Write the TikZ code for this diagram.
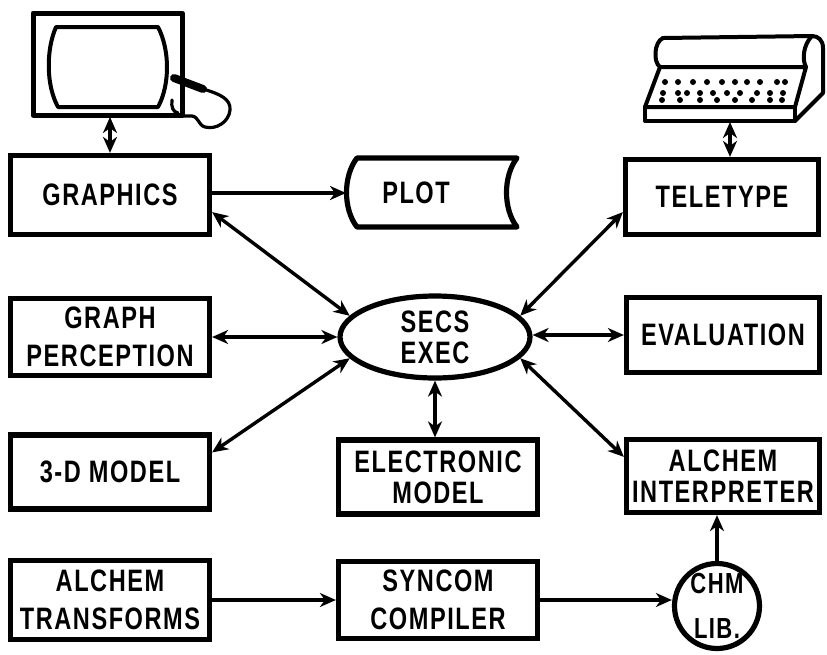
\documentclass[tikz,border=0pt]{standalone}
\usepackage{fontspec}
\newfontfamily\lbl{Liberation Sans}[FakeStretch=0.76,LetterSpace=5]
\usetikzlibrary{arrows.meta,shapes.geometric,calc}
\begin{document}
\begin{tikzpicture}[x=0.5pt,y=-0.5pt,
  >={Stealth[length=8pt,width=7pt,inset=2.5pt]},
  txt/.style={align=center,inner sep=0pt,font=\lbl\bfseries\fontsize{15.5}{19}\selectfont},
  tight/.style={font=\lbl\bfseries\fontsize{15.5}{15.5}\selectfont},
  box/.style={txt,draw,line width=2.6pt,rectangle,minimum width=99.5pt,minimum height=38.5pt},
  rbox/.style={box,minimum width=96.5pt},
  link/.style={line width=1.7pt,<->},
  flow/.style={line width=1.7pt,->},
  sketch/.style={line width=2pt,line join=round,line cap=round}]
\useasboundingbox (0,0) rectangle (827,655);

% ---- boxes ----
\node[box,minimum height=39.5pt] (G) at (110,195) {GRAPHICS};
\node[box] (GP) at (110,337) {GRAPH\\PERCEPTION};
\node[box,minimum height=37pt] (D3) at (110,472) {3-D MODEL};
\node[box,minimum height=39.5pt] (AT) at (110,600) {ALCHEM\\TRANSFORMS};
\node[box,tight,minimum height=37pt] (EM) at (438,477) {ELECTRONIC\\MODEL};
\node[box] (SC) at (438,600) {SYNCOM\\COMPILER};
\node[rbox,minimum height=37.5pt] (TT) at (722,197) {TELETYPE};
\node[rbox,minimum height=37.5pt] (EV) at (723,335) {EVALUATION};
\node[rbox,tight,minimum height=36.5pt] (AI) at (723,476) {ALCHEM\\INTERPRETER};

% ---- executive ----
\node[draw,ellipse,line width=2.6pt,minimum width=95pt,minimum height=41pt,inner sep=0pt] (EX) at (435,337) {};
\node[txt,tight] (EXt) at (EX) {SECS\\EXEC};

% ---- library ----
\node[draw,circle,line width=2.6pt,minimum size=42.5pt,inner sep=0pt] (CHM) at (717,606) {};
\node[txt,font=\lbl\bfseries\fontsize{14.5}{22.5}\selectfont] (CHMt) at (CHM) {CHM\\LIB.};

% ---- plot output ----
\node[txt] (P) at (416,193) {PLOT};
\draw[line width=2.6pt,line join=round] (357,158) -- (517,158)
  .. controls (503,176) and (503,209) .. (517,227) -- (357,227)
  .. controls (343,209) and (343,176) .. (357,158) -- cycle;
\coordinate (Pin) at (346,193);

% ---- display terminal ----
\draw[line width=2.5pt,line join=round] (33,13) rectangle (182,115);
\draw[sketch] (56,27) -- (158,27) .. controls (170,50) and (170,85) .. (158,107)
  -- (58,107) .. controls (46,85) and (46,50) .. (56,27) -- cycle;
\draw[line width=4pt,line cap=round] (174,78) -- (203,89);
\draw[line width=1.6pt,line cap=round] (203,89) .. controls (220,94) and (231,99) .. (230,110)
  .. controls (229,122) and (216,130) .. (205,127) .. controls (198,125) and (199,117) .. (192,116) -- (182,116);
\draw[line width=1.6pt,line cap=round] (172,100) .. controls (171,107) and (173,112) .. (178,113);
\coordinate (MON) at (110,117);

% ---- teletype ----
\draw[sketch] (663,38) -- (812,36);
\draw[sketch] (663,38) .. controls (654,42) and (653,62) .. (660,67);
\draw[sketch] (812,36) .. controls (803,45) and (802,60) .. (806,67);
\draw[sketch] (812,36) .. controls (818,36) and (823,40) .. (823,48) -- (823,93) -- (795,121);
\draw[sketch] (660,67) -- (806,67) -- (795,107) -- (645,107) -- cycle;
\draw[sketch] (645,107) rectangle (795,121);
\foreach \x in {665,678,693,707,722,735,747,760,777,785} \fill (\x,82) circle (1.5pt);
\foreach \x in {663,678,687,700,713,727,740,757,770,783} \fill (\x,93) circle (1.5pt);
\foreach \x in {662,680,700,717,735,752,770,782} \fill (\x,100) circle (1.5pt);
\coordinate (TTY) at (730,122);

% ---- connections ----
\draw[link] (MON) -- (G.north);
\draw[flow] (G.east |- Pin) -- (Pin);
\draw[link] ($(G.south east)+(0,-25)$) -- (EX.166);
\draw[link] (GP.east) -- (EX.west);
\draw[link] ($(D3.north east)+(0,20)$) -- (EX.194);
\draw[link] (EX.south) -- (EX.south |- EM.north);
\draw[link] (TTY) -- (TTY |- TT.north);
\draw[link] ($(TT.south west)+(0,-25)$) -- (EX.14);
\draw[link] (EV.west) -- (EX.east |- EV.west);
\draw[link] ($(AI.north west)+(0,20)$) -- (EX.-14);
\draw[flow] (AT.east) -- (SC.west);
\draw[flow] (SC.east) -- (SC.east -| CHM.west);
\draw[flow] (CHM.north) -- (CHM.north |- AI.south);
\end{tikzpicture}
\end{document}
